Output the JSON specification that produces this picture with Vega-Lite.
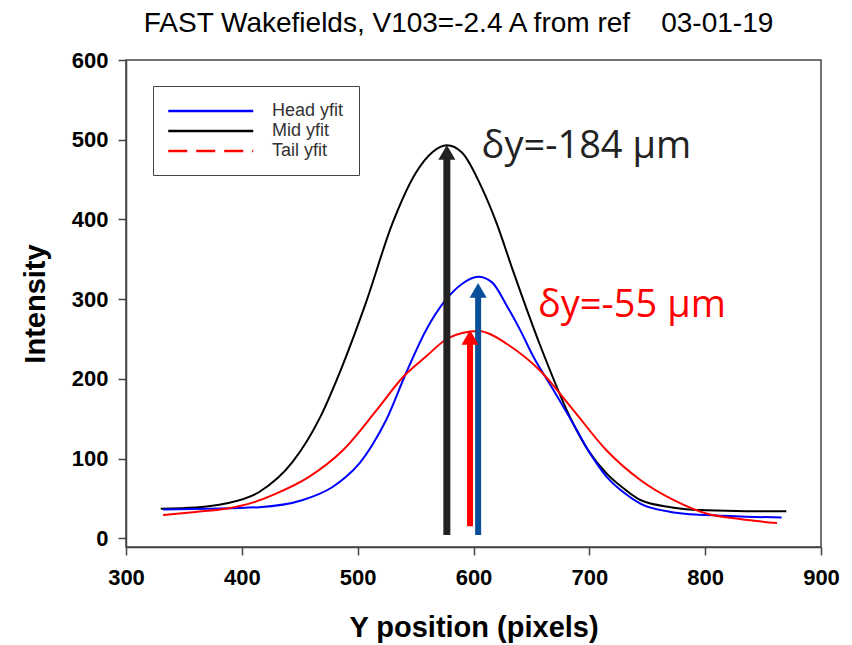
{
  "$schema": "https://vega.github.io/schema/vega-lite/v6.json",
  "width": 695,
  "height": 487,
  "autosize": {"type": "none"},
  "padding": {"left": 126, "top": 60, "right": 31, "bottom": 98},
  "background": "white",
  "title": {
    "text": "FAST Wakefields, V103=-2.4 A from ref \u00a0\u00a0\u00a003-01-19",
    "font": "Liberation Sans",
    "fontSize": 28,
    "fontWeight": "normal",
    "color": "#000000",
    "anchor": "middle",
    "frame": "group",
    "offset": 11,
    "dx": -15
  },
  "config": {
    "view": {"stroke": "#444444", "strokeWidth": 1.5},
    "axis": {
      "grid": false,
      "labelFont": "Liberation Sans",
      "labelFontWeight": "bold",
      "labelFontSize": 22,
      "labelColor": "#000000",
      "labelFlush": false,
      "labelOverlap": false,
      "tickSize": 8,
      "tickColor": "#444444",
      "tickWidth": 1.5,
      "domainColor": "#444444",
      "domainWidth": 1.5,
      "titleFont": "Liberation Sans",
      "titleFontSize": 29,
      "titleFontWeight": "bold",
      "titleColor": "#000000"
    }
  },
  "datasets": {
    "curves": [
      {"series": "Mid yfit", "x": 330, "y": 37},
      {"series": "Mid yfit", "x": 360, "y": 38.5},
      {"series": "Mid yfit", "x": 386, "y": 43.5},
      {"series": "Mid yfit", "x": 415, "y": 58},
      {"series": "Mid yfit", "x": 444, "y": 96},
      {"series": "Mid yfit", "x": 467, "y": 150},
      {"series": "Mid yfit", "x": 487, "y": 217},
      {"series": "Mid yfit", "x": 507, "y": 295},
      {"series": "Mid yfit", "x": 530, "y": 395},
      {"series": "Mid yfit", "x": 550, "y": 458},
      {"series": "Mid yfit", "x": 565, "y": 485},
      {"series": "Mid yfit", "x": 577, "y": 493},
      {"series": "Mid yfit", "x": 590, "y": 484},
      {"series": "Mid yfit", "x": 608, "y": 437},
      {"series": "Mid yfit", "x": 620, "y": 395},
      {"series": "Mid yfit", "x": 634, "y": 336},
      {"series": "Mid yfit", "x": 657, "y": 244},
      {"series": "Mid yfit", "x": 686, "y": 144},
      {"series": "Mid yfit", "x": 700, "y": 108},
      {"series": "Mid yfit", "x": 715, "y": 81},
      {"series": "Mid yfit", "x": 730, "y": 62},
      {"series": "Mid yfit", "x": 744, "y": 48},
      {"series": "Mid yfit", "x": 770, "y": 39},
      {"series": "Mid yfit", "x": 801, "y": 35},
      {"series": "Mid yfit", "x": 835, "y": 34},
      {"series": "Mid yfit", "x": 870, "y": 34},
      {"series": "Head yfit", "x": 332, "y": 36},
      {"series": "Head yfit", "x": 370, "y": 37},
      {"series": "Head yfit", "x": 415, "y": 39},
      {"series": "Head yfit", "x": 452, "y": 47.7},
      {"series": "Head yfit", "x": 478, "y": 64},
      {"series": "Head yfit", "x": 490, "y": 77},
      {"series": "Head yfit", "x": 501.5, "y": 94},
      {"series": "Head yfit", "x": 513, "y": 118},
      {"series": "Head yfit", "x": 524.5, "y": 148},
      {"series": "Head yfit", "x": 541.7, "y": 207},
      {"series": "Head yfit", "x": 559, "y": 261},
      {"series": "Head yfit", "x": 576, "y": 299},
      {"series": "Head yfit", "x": 590, "y": 319},
      {"series": "Head yfit", "x": 604, "y": 328},
      {"series": "Head yfit", "x": 616, "y": 321},
      {"series": "Head yfit", "x": 628.6, "y": 292},
      {"series": "Head yfit", "x": 640, "y": 262},
      {"series": "Head yfit", "x": 651.6, "y": 228},
      {"series": "Head yfit", "x": 669, "y": 186},
      {"series": "Head yfit", "x": 686, "y": 144},
      {"series": "Head yfit", "x": 700, "y": 108},
      {"series": "Head yfit", "x": 715, "y": 77},
      {"series": "Head yfit", "x": 730, "y": 57},
      {"series": "Head yfit", "x": 744, "y": 43.5},
      {"series": "Head yfit", "x": 770, "y": 33},
      {"series": "Head yfit", "x": 801, "y": 29},
      {"series": "Head yfit", "x": 835, "y": 27},
      {"series": "Head yfit", "x": 866, "y": 26},
      {"series": "Tail yfit", "x": 332, "y": 29},
      {"series": "Tail yfit", "x": 360, "y": 33},
      {"series": "Tail yfit", "x": 386, "y": 37},
      {"series": "Tail yfit", "x": 410, "y": 45},
      {"series": "Tail yfit", "x": 429.5, "y": 56},
      {"series": "Tail yfit", "x": 458, "y": 77},
      {"series": "Tail yfit", "x": 487, "y": 110},
      {"series": "Tail yfit", "x": 516, "y": 160},
      {"series": "Tail yfit", "x": 539, "y": 202},
      {"series": "Tail yfit", "x": 559, "y": 228},
      {"series": "Tail yfit", "x": 576, "y": 249},
      {"series": "Tail yfit", "x": 596, "y": 259},
      {"series": "Tail yfit", "x": 605, "y": 260},
      {"series": "Tail yfit", "x": 616, "y": 255},
      {"series": "Tail yfit", "x": 628.6, "y": 244},
      {"series": "Tail yfit", "x": 657, "y": 211},
      {"series": "Tail yfit", "x": 686, "y": 161},
      {"series": "Tail yfit", "x": 715, "y": 110},
      {"series": "Tail yfit", "x": 744, "y": 73},
      {"series": "Tail yfit", "x": 772.5, "y": 48},
      {"series": "Tail yfit", "x": 801, "y": 31},
      {"series": "Tail yfit", "x": 830, "y": 24},
      {"series": "Tail yfit", "x": 862, "y": 19}
    ],
    "arrows": [
      {"arrow": "Mid", "x": 577, "base": 4, "tip": 484},
      {"arrow": "Tail", "x": 597, "base": 15, "tip": 252},
      {"arrow": "Head", "x": 604, "base": 4, "tip": 311}
    ],
    "notes": [
      {"note": "Mid", "x": 607, "y": 477, "label": "δy=-184 µm"},
      {"note": "Tail", "x": 655.7, "y": 277.7, "label": "δy=-55 µm"}
    ]
  },
  "layer": [
    {
      "data": {"name": "curves"},
      "mark": {"type": "line", "strokeWidth": 2, "interpolate": "monotone"},
      "encoding": {
        "x": {
          "field": "x", "type": "quantitative",
          "scale": {"domain": [300, 900], "nice": false, "zero": false},
          "axis": {"values": [300, 400, 500, 600, 700, 800, 900], "title": "Y position (pixels)", "labelPadding": 12, "titlePadding": 25}
        },
        "y": {
          "field": "y", "type": "quantitative",
          "scale": {"domain": [-11, 600], "nice": false, "zero": false},
          "axis": {"values": [0, 100, 200, 300, 400, 500, 600], "title": "Intensity", "labelPadding": 10, "titlePadding": 21}
        },
        "color": {
          "field": "series", "type": "nominal",
          "scale": {"domain": ["Head yfit", "Mid yfit", "Tail yfit"], "range": ["#0000ff", "#000000", "#ff0000"]},
          "legend": {
            "title": null,
            "orient": "none",
            "legendX": 27,
            "legendY": 26,
            "symbolType": "M-1.15,0H8.85",
            "symbolSize": 289,
            "symbolStrokeWidth": 2.5,
            "labelFont": "Liberation Sans",
            "labelFontSize": 18,
            "labelColor": "#333333",
            "labelOffset": 84,
            "padding": 15,
            "rowPadding": 1,
            "strokeColor": "#444444",
            "encode": {
              "symbols": {"update": {"strokeDash": {"signal": "datum.value === 'Tail yfit' ? [19, 9] : []"}}}
            }
          }
        },
        "order": {"field": "x", "type": "quantitative"}
      }
    },
    {
      "data": {"name": "arrows"},
      "mark": {"type": "rule", "strokeCap": "butt"},
      "encoding": {
        "x": {"field": "x", "type": "quantitative"},
        "y": {"field": "base", "type": "quantitative"},
        "y2": {"field": "tip"},
        "color": {
          "condition": [
            {"test": "datum.arrow === 'Mid'", "value": "#222222"},
            {"test": "datum.arrow === 'Head'", "value": "#0a4f99"}
          ],
          "value": "#ff0000"
        },
        "strokeWidth": {"condition": {"test": "datum.arrow === 'Mid'", "value": 7}, "value": 6}
      }
    },
    {
      "data": {"name": "arrows"},
      "mark": {"type": "point", "shape": "triangle-up", "filled": true, "size": 290, "opacity": 1},
      "encoding": {
        "x": {"field": "x", "type": "quantitative"},
        "y": {"field": "tip", "type": "quantitative"},
        "color": {
          "condition": [
            {"test": "datum.arrow === 'Mid'", "value": "#222222"},
            {"test": "datum.arrow === 'Head'", "value": "#0a4f99"}
          ],
          "value": "#ff0000"
        }
      }
    },
    {
      "data": {"name": "notes"},
      "mark": {"type": "text", "font": "Open Sans", "fontSize": 38, "align": "left", "baseline": "alphabetic"},
      "encoding": {
        "x": {"field": "x", "type": "quantitative"},
        "y": {"field": "y", "type": "quantitative"},
        "text": {"field": "label"},
        "color": {"condition": {"test": "datum.note === 'Mid'", "value": "#222222"}, "value": "#ff0000"}
      }
    }
  ]
}
